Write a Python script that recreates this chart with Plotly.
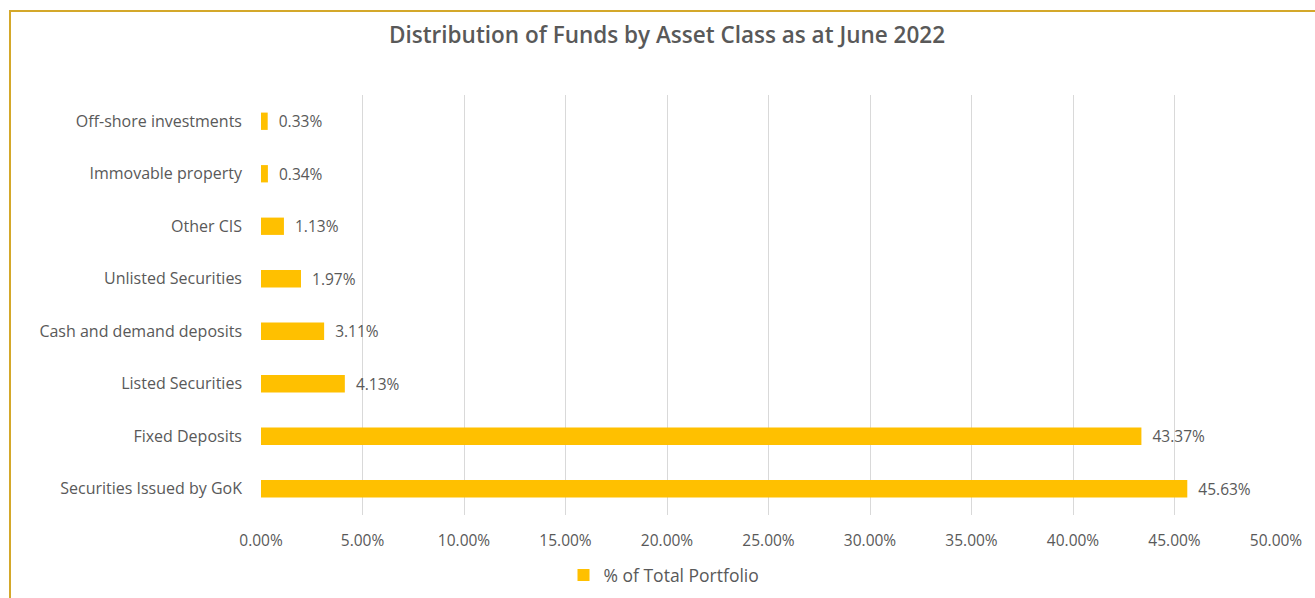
import plotly.graph_objects as go

categories = [
    "Off-shore investments",
    "Immovable property",
    "Other CIS",
    "Unlisted Securities",
    "Cash and demand deposits",
    "Listed Securities",
    "Fixed Deposits",
    "Securities Issued by GoK",
]
values = [0.33, 0.34, 1.13, 1.97, 3.11, 4.13, 43.37, 45.63]
series_name = "% of Total Portfolio"
tick_vals = [0, 5, 10, 15, 20, 25, 30, 35, 40, 45, 50]

FONT = "'Open Sans', Lato, sans-serif"
GREY = "#595959"
NBSP = "\u00a0"

fig = go.Figure()
fig.add_trace(go.Bar(
    x=values,
    y=categories,
    orientation="h",
    name=series_name,
    marker=dict(color="#FFC000", line=dict(width=0)),
    width=0.33,
    text=[f"{NBSP}{NBSP}{v:.2f}%" for v in values],
    textposition="outside",
    constraintext="none",
    textfont=dict(family=FONT, size=15.5, color=GREY),
    cliponaxis=False,
    showlegend=True,
))

fig.update_layout(
    width=1315,
    height=598,
    autosize=False,
    paper_bgcolor="white",
    plot_bgcolor="white",
    margin=dict(l=261, r=39, t=95, b=83, autoexpand=False),
    font=dict(family=FONT, color=GREY),
    title=dict(
        text="Distribution of Funds by Asset Class as at June 2022",
        x=667 / 1315,
        xref="container",
        xanchor="center",
        y=1 - 35 / 598,
        yref="container",
        yanchor="middle",
        font=dict(family=FONT, size=22.5, color=GREY, weight=600),
    ),
    xaxis=dict(
        range=[0, 50],
        tickvals=tick_vals,
        ticktext=[f"{t:.2f}%" for t in tick_vals],
        showgrid=True,
        gridcolor="#D9D9D9",
        gridwidth=1,
        zeroline=False,
        showline=False,
        ticks="",
        ticklabelstandoff=14,
        automargin=False,
        tickfont=dict(family=FONT, size=15.5, color=GREY),
    ),
    yaxis=dict(
        autorange="reversed",
        showgrid=False,
        zeroline=False,
        showline=False,
        ticks="",
        ticklabelstandoff=18,
        automargin=False,
        tickfont=dict(family=FONT, size=16, color=GREY),
    ),
    legend=dict(
        orientation="h",
        xref="container",
        x=664 / 1315,
        xanchor="center",
        yref="container",
        y=1 - 575 / 598,
        yanchor="middle",
        font=dict(family=FONT, size=17.5, color=GREY),
        itemwidth=30,
    ),
    bargap=0.67,
)

# chart border (gold), extends beyond the visible page on right/bottom
fig.add_shape(
    type="rect",
    xref="paper", yref="paper",
    x0=(10 - 261) / 1015, x1=1.2,
    y0=-0.5, y1=(515 - 11) / 420,
    line=dict(color="#D4A82A", width=2),
    fillcolor="rgba(0,0,0,0)",
    layer="below",
)

fig.write_html(
    "out.html",
    config={"displayModeBar": False},
    post_script="document.body.style.margin='0';",
)
